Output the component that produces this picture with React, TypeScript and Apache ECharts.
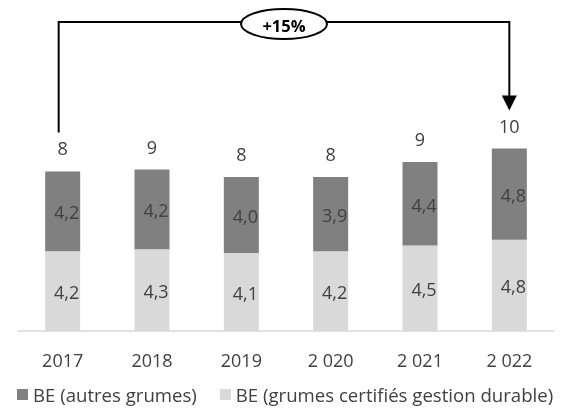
import React, { useEffect, useRef } from "react";
import * as echarts from "echarts";

const categories = ["2017", "2018", "2019", "2 020", "2 021", "2 022"];
const autresGrumes = [4.2, 4.2, 4.0, 3.9, 4.4, 4.8];
const grumesCertifies = [4.2, 4.3, 4.1, 4.2, 4.5, 4.8];
const seriesNames = ["BE (autres grumes)", "BE (grumes certifiés gestion durable)"];
const growthLabel = "+15%";

const FONT = "'Open Sans', sans-serif";
const TEXT = "#404040";

export default function App() {
  const ref = useRef<HTMLDivElement>(null);
  useEffect(() => {
    if (!ref.current) return;
    const chart = echarts.init(ref.current, null, { renderer: "svg" });
    const totals = categories.map((_, i) => autresGrumes[i] + grumesCertifies[i]);
    const fmt = (v: number) => v.toFixed(1).replace(".", ",");
    chart.setOption({
      animation: false,
      textStyle: { fontFamily: FONT },
      grid: { left: 18, right: 7, top: 27, bottom: 78 },
      legend: {
        left: 12,
        bottom: 0,
        itemWidth: 11,
        itemHeight: 11,
        itemGap: 23,
        icon: "rect",
        textStyle: { fontFamily: FONT, fontSize: 18.6, color: TEXT },
        data: [seriesNames[0], seriesNames[1]],
      },
      xAxis: {
        type: "category",
        data: categories,
        axisLine: { lineStyle: { color: "#d9d9d9", width: 1.5 } },
        axisTick: { show: false },
        axisLabel: { fontFamily: FONT, fontSize: 18, color: TEXT, margin: 20 },
      },
      yAxis: { type: "value", min: 0, max: 16, show: false, splitLine: { show: false } },
      series: [
        {
          name: seriesNames[1],
          type: "bar",
          stack: "total",
          barWidth: 35,
          data: grumesCertifies,
          itemStyle: { color: "#d9d9d9" },
          label: {
            show: true,
            position: "inside",
            offset: [4, 1],
            formatter: (p: any) => fmt(p.value),
            fontFamily: FONT,
            fontSize: 18,
            color: TEXT,
          },
        },
        {
          name: seriesNames[0],
          type: "bar",
          stack: "total",
          barWidth: 35,
          data: autresGrumes,
          itemStyle: { color: "#808080" },
          label: {
            show: true,
            position: "inside",
            offset: [4, 1],
            formatter: (p: any) => fmt(p.value),
            fontFamily: FONT,
            fontSize: 18,
            color: TEXT,
          },
        },
        {
          name: "total",
          type: "bar",
          stack: "total",
          barWidth: 35,
          data: totals.map(() => 0),
          itemStyle: { color: "transparent" },
          label: {
            show: true,
            position: "top",
            distance: 14,
            formatter: (p: any) => String(Math.round(totals[p.dataIndex] + 1e-9)),
            fontFamily: FONT,
            fontSize: 18,
            color: TEXT,
          },
        },
      ],
    });

    const x0 = chart.convertToPixel({ xAxisIndex: 0 }, categories[0]) as number;
    const x1 = chart.convertToPixel({ xAxisIndex: 0 }, categories[categories.length - 1]) as number;
    const top0 = chart.convertToPixel({ yAxisIndex: 0 }, totals[0]) as number;
    const top1 = chart.convertToPixel({ yAxisIndex: 0 }, totals[totals.length - 1]) as number;
    const lx = x0 - 4;
    const hy = 22;
    const leftBottom = top0 - 39;
    const tip = top1 - 38;
    const cx = (lx + x1) / 2;
    const lineStyle = { stroke: "#000", lineWidth: 2, fill: "none" };
    chart.setOption({
      graphic: [
        {
          type: "polyline",
          shape: { points: [[lx, leftBottom], [lx, hy], [x1, hy], [x1, tip - 14]] },
          style: lineStyle,
          z: 10,
        },
        {
          type: "polygon",
          shape: { points: [[x1 - 7.5, tip - 15], [x1 + 7.5, tip - 15], [x1, tip]] },
          style: { fill: "#000" },
          z: 10,
        },
        {
          type: "ellipse",
          shape: { cx, cy: 24, rx: 43, ry: 15 },
          style: { fill: "#fff", stroke: "#000", lineWidth: 2 },
          z: 11,
        },
        {
          type: "text",
          x: cx,
          y: 25,
          style: {
            text: growthLabel,
            fontFamily: FONT,
            fontSize: 16.5,
            fontWeight: "bold",
            fill: "#000",
            align: "center",
            verticalAlign: "middle",
          },
          z: 12,
        },
      ],
    });
    return () => chart.dispose();
  }, []);
  return <div ref={ref} style={{ position: "fixed", left: 0, top: 0, width: 561, height: 409 }} />;
}
